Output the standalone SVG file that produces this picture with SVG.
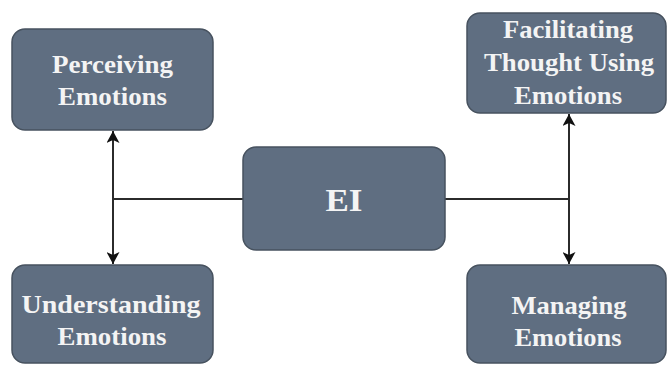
<svg xmlns="http://www.w3.org/2000/svg" width="668" height="365" viewBox="0 0 668 365">
<defs>
<style>
.box{fill:#5f6e81;stroke:#47525f;stroke-width:1.5}
.t{font-family:"Liberation Serif","Times New Roman",serif;font-weight:bold;font-size:26px;fill:#f4f4f4;text-anchor:middle}
.big{font-size:31px}
.ln{stroke:#2b2b2b;stroke-width:2;fill:none}
</style>
<marker id="ah" viewBox="0 0 12 13" refX="12" refY="6.5" markerWidth="13" markerHeight="13" markerUnits="userSpaceOnUse" orient="auto-start-reverse">
<path d="M0,0 L12,6.5 L0,13 L3,6.5 Z" fill="#111"/>
</marker>
</defs>
<rect width="668" height="365" fill="#ffffff"/>
<g id="connectors">
<line class="ln" x1="113" y1="131" x2="113" y2="264" marker-start="url(#ah)" marker-end="url(#ah)"/>
<line class="ln" x1="113" y1="199" x2="243" y2="199" stroke-width="1.5"/>
<line class="ln" x1="569" y1="114" x2="569" y2="264" marker-start="url(#ah)" marker-end="url(#ah)"/>
<line class="ln" x1="445" y1="199" x2="569" y2="199" stroke-width="1.5"/>
</g>
<g id="perceiving">
<rect class="box" x="12" y="29" width="201" height="101" rx="13"/>
<text class="t" x="112.5" y="73" textLength="121" lengthAdjust="spacingAndGlyphs">Perceiving</text>
<text class="t" x="112.5" y="105" textLength="109" lengthAdjust="spacingAndGlyphs">Emotions</text>
</g>
<g id="facilitating">
<rect class="box" x="467" y="13" width="199" height="100" rx="13"/>
<text class="t" x="568" y="38" textLength="130" lengthAdjust="spacingAndGlyphs">Facilitating</text>
<text class="t" x="569" y="71" textLength="170" lengthAdjust="spacingAndGlyphs">Thought Using</text>
<text class="t" x="568" y="104" textLength="108" lengthAdjust="spacingAndGlyphs">Emotions</text>
</g>
<g id="ei">
<rect class="box" x="243" y="147" width="202" height="103" rx="13"/>
<text class="t big" x="344" y="211" textLength="37" lengthAdjust="spacingAndGlyphs">EI</text>
</g>
<g id="understanding">
<rect class="box" x="12" y="265" width="201" height="98" rx="13"/>
<text class="t" x="111" y="313" textLength="179" lengthAdjust="spacingAndGlyphs">Understanding</text>
<text class="t" x="112" y="345" textLength="109" lengthAdjust="spacingAndGlyphs">Emotions</text>
</g>
<g id="managing">
<rect class="box" x="467" y="265" width="199" height="98" rx="13"/>
<text class="t" x="569" y="314" textLength="115" lengthAdjust="spacingAndGlyphs">Managing</text>
<text class="t" x="568" y="346" textLength="107" lengthAdjust="spacingAndGlyphs">Emotions</text>
</g>
</svg>
